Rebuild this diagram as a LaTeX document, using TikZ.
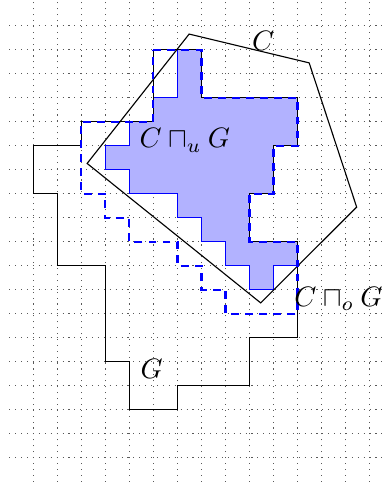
\documentclass[tikz,border=0pt]{standalone}
\usepackage{amsmath,amssymb,xcolor,tikz}
\usetikzlibrary{arrows.meta,positioning}
\definecolor{blue}{RGB}{0,0,255}

\begin{document}
\begin{tikzpicture}[x=0.3cm,y=0.3cm,every node/.style={font=\normalsize},
  gridline/.style={black!65,line width=0.4pt,dash pattern=on 0.4pt off 1.7pt},
  innerset/.style={fill=blue!30,draw=blue},
  outerset/.style={draw=blue,thick,dash pattern=on 2.8pt off 2.2pt},
  outline/.style={draw=black}]
\useasboundingbox (-1.39,-1.054) rectangle (14.696,19.07);
\clip (-1.39,-1.054) rectangle (14.696,19.07);
\foreach \y in {0,...,18} \draw[gridline] (-1,\y)--(15,\y);
\foreach \x in {0,...,14} \draw[gridline] (\x,-1)--(\x,19.1);
% inner approximation
\path[innerset] (6,17)--(7,17)--(7,15)--(11,15)--(11,13)--(10,13)--(10,11)--(9,11)--(9,9)--(11,9)
  --(11,8)--(10,8)--(10,7)--(9,7)--(9,8)--(8,8)--(8,9)--(7,9)--(7,10)--(6,10)--(6,11)--(4,11)
  --(4,12)--(3,12)--(3,13)--(4,13)--(4,14)--(5,14)--(5,15)--(6,15)--cycle;
% the grid set G
\draw[outline] (0,13)--(2,13)--(2,14)--(5,14)--(5,17)--(7,17)--(7,15)--(11,15)--(11,13)--(10,13)
  --(10,11)--(9,11)--(9,9)--(11,9)--(11,5)--(9,5)--(9,3)--(6,3)--(6,2)--(4,2)--(4,4)--(3,4)
  --(3,8)--(1,8)--(1,11)--(0,11)--cycle;
% the convex set C
\coordinate (c1) at (6.49,17.65);
\coordinate (c2) at (11.49,16.45);
\coordinate (c3) at (13.47,10.44);
\coordinate (c4) at (9.47,6.45);
\coordinate (c5) at (2.24,12.26);
\draw[outline] (c1)--(c2)--(c3)--(c4)--(c5)--cycle;
% outer approximation
\draw[outerset] (5,17)--(7,17)--(7,15)--(11,15)--(11,13)--(10,13)--(10,11)--(9,11)--(9,9)--(11,9)
  --(11,6)--(8,6)--(8,7)--(7,7)--(7,8)--(6,8)--(6,9)--(4,9)--(4,10)--(3,10)--(3,11)--(2,11)
  --(2,14)--(5,14)--cycle;
\node (lC) at (9.57,17.37) {$C$};
\node (lu) at (6.31,13.22) {$C \sqcap_u G$};
\node (lo) at (12.71,6.62) {$C \sqcap_o G$};
\node (lG) at (4.93,3.69) {$G$};
\end{tikzpicture}
\end{document}
